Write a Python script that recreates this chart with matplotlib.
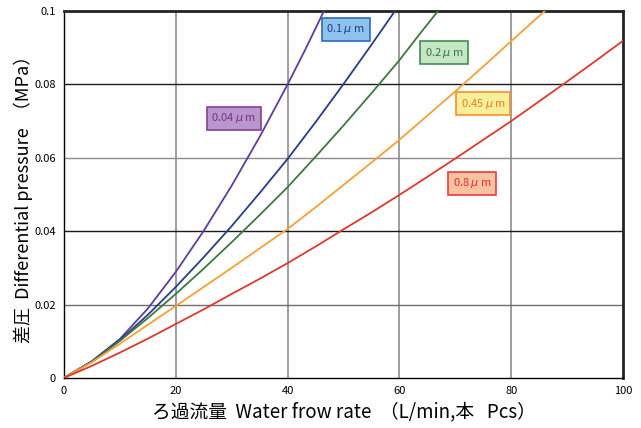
import matplotlib
matplotlib.use('Agg')
import matplotlib.pyplot as plt

plt.rcParams['font.family'] = ['Noto Sans CJK JP', 'DejaVu Sans']

# values (flow L/min, differential pressure MPa)
x_004 = [0, 5, 10, 15, 20, 25, 30, 35, 40, 43, 46.5]
y_004 = [0, 0.0046, 0.0106, 0.0189, 0.0289, 0.0401, 0.0524, 0.0657, 0.080, 0.0890, 0.100]

x_01 = [0, 5, 10, 15, 20, 25, 30, 35, 40, 45, 50, 55, 59.2]
y_01 = [0, 0.0045, 0.0103, 0.0172, 0.0248, 0.0329, 0.0414, 0.0504, 0.0597, 0.0697,
        0.0801, 0.0908, 0.100]

x_02 = [0, 5, 10, 15, 20, 25, 30, 35, 40, 45, 50, 55, 60, 63.5, 66.9]
y_02 = [0, 0.0044, 0.0101, 0.0163, 0.0229, 0.0298, 0.0370, 0.0444, 0.052, 0.0603,
        0.0688, 0.0776, 0.0866, 0.0935, 0.100]

x_045 = [0, 5, 10, 15, 20, 25, 30, 35, 40, 45, 50, 55, 60, 65, 70, 75, 80, 86.0]
y_045 = [0, 0.0043, 0.0093, 0.0145, 0.0196, 0.0248, 0.0300, 0.0353, 0.0406, 0.0465,
         0.0526, 0.0587, 0.0649, 0.0715, 0.0781, 0.0849, 0.0918, 0.100]

x_08 = [0, 5, 10, 15, 20, 25, 30, 35, 40, 45, 50, 55, 60, 65, 70, 75, 80, 85, 90, 95, 100]
y_08 = [0, 0.0033, 0.0069, 0.0107, 0.0147, 0.0187, 0.0229, 0.0270, 0.0313, 0.0358,
        0.0405, 0.0451, 0.0499, 0.0548, 0.0598, 0.0649, 0.070, 0.0754, 0.0808, 0.0863,
        0.0919]

labels = ['0.04', '0.1', '0.2', '0.45', '0.8']
label_x = [30.4, 50.4, 68.0, 75.0, 73.0]
label_y = [0.0708, 0.0951, 0.0886, 0.0747, 0.0531]

line_colors = ['#5c3c9e', '#283c8c', '#3a7a40', '#f7a035', '#e0382c']
box_faces = ['#b898cc', '#8ec2ec', '#c6e6c6', '#f6f09a', '#f9c2a2']
box_edges = ['#8a3c9c', '#2e6cb4', '#3c9050', '#f5902e', '#e8403a']
text_colors = ['#7a2e8e', '#1e3c8c', '#2e7a3e', '#f07a20', '#e0302a']

fig = plt.figure(figsize=(6.41, 4.28), dpi=100)
ax = fig.add_axes([0.0998, 0.117, 0.872, 0.857])

series = [(x_004, y_004), (x_01, y_01), (x_02, y_02), (x_045, y_045), (x_08, y_08)]
for (xs, ys), c in zip(series, line_colors):
    ax.plot(xs, ys, color=c, lw=1.3, zorder=3)

for i in range(len(labels)):
    ax.text(label_x[i], label_y[i], labels[i] + r' $\mu$ m', color=text_colors[i],
            fontsize=8, ha='center', va='center', zorder=4,
            bbox=dict(boxstyle='square,pad=0.4', fc=box_faces[i], ec=box_edges[i], lw=1.2))

ax.set_xlim(0, 100)
ax.set_ylim(0, 0.1)
ax.set_xticks([0, 20, 40, 60, 80, 100])
ax.set_yticks([0, 0.02, 0.04, 0.06, 0.08, 0.1])
ax.set_yticklabels(['0', '0.02', '0.04', '0.06', '0.08', '0.1'])

# grid: vertical gray, horizontal alternating gray / black
for xv in [20, 40, 60, 80]:
    ax.axvline(xv, color='#8c8c8c', lw=1.2, zorder=1)
for yv, c in [(0.02, '#6e6e6e'), (0.04, '#1a1a1a'), (0.06, '#8c8c8c'), (0.08, '#1a1a1a')]:
    ax.axhline(yv, color=c, lw=1.0, zorder=1)

for s in ['left', 'bottom']:
    ax.spines[s].set_linewidth(1.0)
for s in ['top', 'right']:
    ax.spines[s].set_linewidth(2.0)
    ax.spines[s].set_color('#222222')

ax.tick_params(length=0, labelsize=8, pad=6)
ax.set_xlabel('ろ過流量  Water frow rate  （L/min,本   Pcs）', fontsize=13.5, va='center')
ax.set_ylabel('差圧  Differential pressure  （MPa）', fontsize=13, va='center')
ax.xaxis.set_label_coords(0.5, -0.093)
ax.yaxis.set_label_coords(-0.073, 0.5)

fig.savefig('out.png', dpi=100)
